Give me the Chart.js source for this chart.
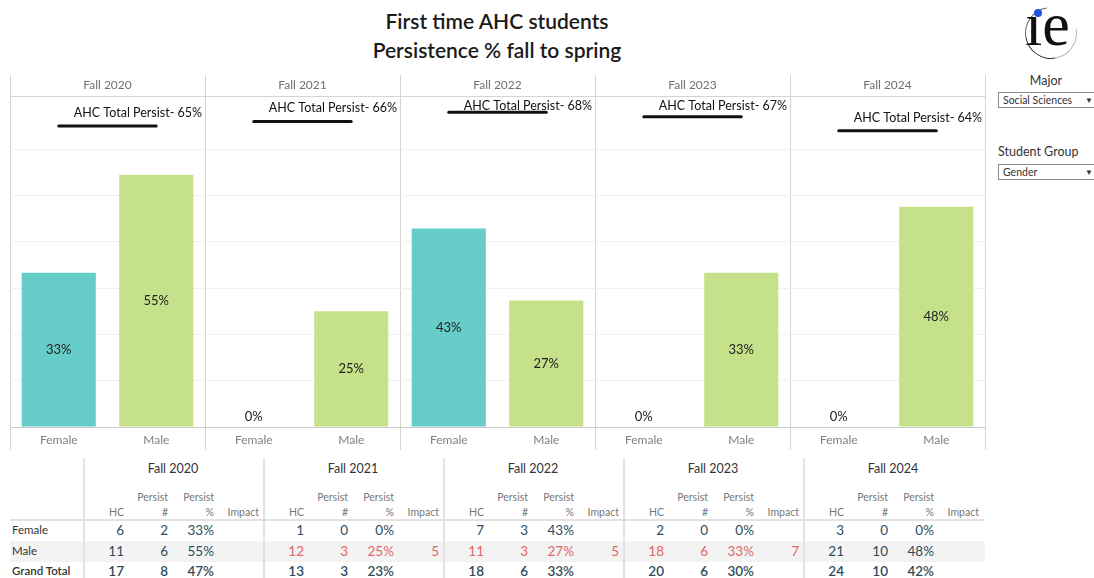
<!DOCTYPE html>
<html>
<head>
<meta charset="utf-8">
<script src="https://cdn.jsdelivr.net/npm/chart.js@4.4.1/dist/chart.umd.min.js"></script>
<style>
  body { margin: 0; width: 1094px; height: 578px; background: #fff; font-family: Lato, "Noto Sans", sans-serif; overflow: hidden; position: relative; }
  .title { position: absolute; left: 0; top: 6px; width: 994px; text-align: center; font-size: 21px; font-weight: 600; color: #1a1a1a; line-height: 29px; }
  #chartBox { position: absolute; left: 0; top: 70px; width: 1000px; height: 385px; }
  .t { position: absolute; white-space: nowrap; height: 16px; line-height: 16px; }
  .band { position: absolute; background: #f3f3f3; }
  .hline { position: absolute; background: #e2e2e2; height: 2px; }
  .vline { position: absolute; background: #e2e2e2; width: 2px; }
  .flabel { position: absolute; font-size: 12.5px; color: #333; }
  .drop { position: absolute; left: 998px; width: 100px; height: 16px; border: 1px solid #8c8c8c; font-size: 10.5px; color: #333; line-height: 15px; padding-left: 4px; box-sizing: border-box; }
  .drop span { position: absolute; left: 86px; top: 0; font-size: 8px; }
</style>
</head>
<body>
<div class="title">First time AHC students<br>Persistence % fall to spring</div>

<!-- logo -->
<div style="position:absolute;left:1025px;top:7px;width:50px;height:50px;border-radius:50%;border:1.5px solid;border-color:transparent #bbb #333 #666;transform:rotate(35deg);"></div>
<div style="position:absolute;left:1025px;top:-11px;font-family:'Liberation Serif',serif;font-size:62px;color:#111;">ıe</div>
<div style="position:absolute;left:1034px;top:9px;width:8px;height:8px;border-radius:50%;background:#1f56e0;"></div>

<div class="flabel" style="left:998px;top:73px;width:96px;text-align:center;">Major</div>
<div class="drop" style="top:92px;">Social Sciences<span>&#9660;</span></div>
<div class="flabel" style="left:998px;top:144px;">Student Group</div>
<div class="drop" style="top:164px;">Gender<span>&#9660;</span></div>

<div id="chartBox"><canvas id="persistChart"></canvas></div>
<div id="table"></div>

<script>
// ---- data ----
const years = ['Fall 2020', 'Fall 2021', 'Fall 2022', 'Fall 2023', 'Fall 2024'];
const groups = ['Female', 'Male'];
const ahcTotal = [65, 66, 68, 67, 64];

const femaleHC = [6, 1, 7, 2, 3];
const femalePersist = [2, 0, 3, 0, 0];
const femalePct = [33.3, 0, 42.9, 0, 0];

const maleHC = [11, 12, 11, 18, 21];
const malePersist = [6, 3, 3, 6, 10];
const malePct = [54.5, 25, 27.3, 33.3, 47.6];
const maleImpact = [null, 5, 5, 7, null];

const totalHC = [17, 13, 18, 20, 24];
const totalPersist = [8, 3, 6, 6, 10];
const totalPct = [47, 23, 33, 30, 42];

// ---- chart ----
const teal = '#66cdc9';
const green = '#c5e18a';
const sepColor = '#d4d4d4';
const font = 'Lato, "Noto Sans", sans-serif';

const labels = years.flatMap(() => groups);
const barData = years.flatMap((yr, i) => [femalePct[i], malePct[i]]);
const lineData = years.flatMap((yr, i) => [ahcTotal[i], ahcTotal[i]]);

function panelEdges(x, i) {
    const half = (x.getPixelForValue(1) - x.getPixelForValue(0)) / 2;
    return [x.getPixelForValue(2 * i) - half, x.getPixelForValue(2 * i + 1) + half];
}

const panelPlugin = {
    id: 'panels',
    afterDraw(chart) {
        const { ctx, chartArea: a, scales: { x, y } } = chart;
        ctx.save();
        ctx.strokeStyle = sepColor;
        ctx.lineWidth = 1;
        ctx.beginPath();
        ctx.moveTo(a.left, a.top + 0.5);
        ctx.lineTo(a.right, a.top + 0.5);
        ctx.stroke();
        ctx.font = '12px ' + font;
        ctx.fillStyle = '#707070';
        ctx.textAlign = 'center';
        ctx.textBaseline = 'middle';
        years.forEach((yr, i) => {
            const [l, r] = panelEdges(x, i);
            ctx.beginPath();
            ctx.moveTo(Math.round(l) + 0.5, a.top - 21);
            ctx.lineTo(Math.round(l) + 0.5, a.top);
            if (i === years.length - 1) {
                ctx.moveTo(Math.round(r) + 0.5, a.top - 21);
                ctx.lineTo(Math.round(r) + 0.5, a.top);
            }
            ctx.stroke();
            ctx.fillText(yr, (l + r) / 2, a.top - 11);
        });
        ctx.restore();
    },
    afterDatasetsDraw(chart) {
        const { ctx, chartArea: a, scales: { x, y } } = chart;
        ctx.save();
        // value labels
        ctx.font = '13px ' + font;
        ctx.fillStyle = '#222';
        ctx.textAlign = 'center';
        ctx.textBaseline = 'middle';
        chart.getDatasetMeta(1).data.forEach((bar, i) => {
            const v = barData[i];
            const yy = v > 0 ? (bar.y + bar.base) / 2 : bar.base - 10;
            ctx.fillText(Math.round(v) + '%', bar.x, yy);
        });
        // reference line labels
        ctx.font = '12.5px ' + font;
        ctx.fillStyle = '#111';
        ctx.textAlign = 'right';
        years.forEach((yr, i) => {
            const [l, r] = panelEdges(x, i);
            const ly = y.getPixelForValue(ahcTotal[i]);
            ctx.fillText('AHC Total Persist- ' + ahcTotal[i] + '%', r - 3, Math.max(ly - 13, a.top + 10));
        });
        ctx.restore();
    }
};

const isEdge = c => c.index === undefined || c.index % 2 === 0;

new Chart(document.getElementById('persistChart'), {
    type: 'bar',
    data: {
        labels: labels,
        datasets: [{
            type: 'line',
            data: lineData,
            borderColor: '#111',
            borderWidth: 3,
            borderCapStyle: 'round',
            pointRadius: 0,
            segment: {
                borderColor: c => c.p0DataIndex % 2 === 1 ? 'rgba(0,0,0,0)' : '#111'
            }
        }, {
            type: 'bar',
            data: barData,
            backgroundColor: labels.map(g => g === 'Female' ? teal : green),
            barPercentage: 0.76,
            categoryPercentage: 1
        }]
    },
    options: {
        responsive: true,
        maintainAspectRatio: false,
        animation: false,
        layout: { padding: { left: 10, right: 15, top: 26, bottom: 0 } },
        plugins: { legend: { display: false }, tooltip: { enabled: false } },
        scales: {
            x: {
                grid: {
                    offset: true,
                    color: c => isEdge(c) ? sepColor : 'rgba(0,0,0,0)',
                    tickColor: c => isEdge(c) ? sepColor : 'rgba(0,0,0,0)',
                    tickLength: 23
                },
                border: { display: true, color: '#cccccc' },
                ticks: { padding: -17, color: '#808080', font: { family: font, size: 12 }, maxRotation: 0 },
                afterFit: s => { s.height = 28; }
            },
            y: {
                min: 0,
                max: 71.5,
                ticks: { display: false, stepSize: 10 },
                grid: { color: '#f0f0f0', drawTicks: false },
                border: { display: false },
                afterFit: s => { s.width = 0; }
            }
        }
    },
    plugins: [panelPlugin]
});

// ---- table ----
const table = document.getElementById('table');
const groupLeft = [83, 263, 443, 623, 803];
const colRight = [41, 85, 131, 176];
const blue = '#2f4c5c';
const red = '#e06666';

function put(txt, left, cy, opts) {
    const d = document.createElement('div');
    d.className = 't';
    d.textContent = txt;
    d.style.top = (cy - 8) + 'px';
    if (opts.align === 'right') {
        d.style.left = (left - 80) + 'px';
        d.style.width = '80px';
        d.style.textAlign = 'right';
    } else if (opts.align === 'center') {
        d.style.left = (left - 60) + 'px';
        d.style.width = '120px';
        d.style.textAlign = 'center';
    } else {
        d.style.left = left + 'px';
    }
    d.style.fontSize = opts.size + 'px';
    d.style.color = opts.color;
    if (opts.weight) d.style.fontWeight = opts.weight;
    table.appendChild(d);
}
function box(cls, l, t, w, h) {
    const d = document.createElement('div');
    d.className = cls;
    d.style.left = l + 'px';
    d.style.top = t + 'px';
    if (w) d.style.width = w + 'px';
    if (h) d.style.height = h + 'px';
    table.appendChild(d);
}

box('band', 10, 541, 975, 21);
box('hline', 10, 519, 975);
groupLeft.forEach(x => box('vline', x, 458, null, 120));

const rows = [
    { label: 'Female', y: 530, hc: femaleHC, n: femalePersist, pct: femalePct, impact: null },
    { label: 'Male', y: 551, hc: maleHC, n: malePersist, pct: malePct, impact: maleImpact },
    { label: 'Grand Total', y: 571, hc: totalHC, n: totalPersist, pct: totalPct, impact: null, bold: true }
];

rows.forEach(r => put(r.label, 12, r.y, { size: 11.5, color: '#333', weight: r.bold ? 600 : null }));

years.forEach((yr, i) => {
    const g = groupLeft[i];
    put(yr, g + 90, 469, { align: 'center', size: 12.5, color: '#333' });
    put('Persist', g + colRight[1], 497, { align: 'right', size: 10.5, color: '#777' });
    put('Persist', g + colRight[2], 497, { align: 'right', size: 10.5, color: '#777' });
    ['HC', '#', '%', 'Impact'].forEach((h, k) => put(h, g + colRight[k], 512, { align: 'right', size: 10.5, color: '#777' }));
    rows.forEach(r => {
        const hot = r.impact && r.impact[i] != null;
        const c = hot ? red : blue;
        const o = { align: 'right', size: 13.5, color: c, weight: r.bold ? 600 : null };
        put(String(r.hc[i]), g + colRight[0], r.y, o);
        put(String(r.n[i]), g + colRight[1], r.y, o);
        put(Math.round(r.pct[i]) + '%', g + colRight[2], r.y, o);
        if (hot) put(String(r.impact[i]), g + colRight[3], r.y, o);
    });
});
</script>
</body>
</html>
